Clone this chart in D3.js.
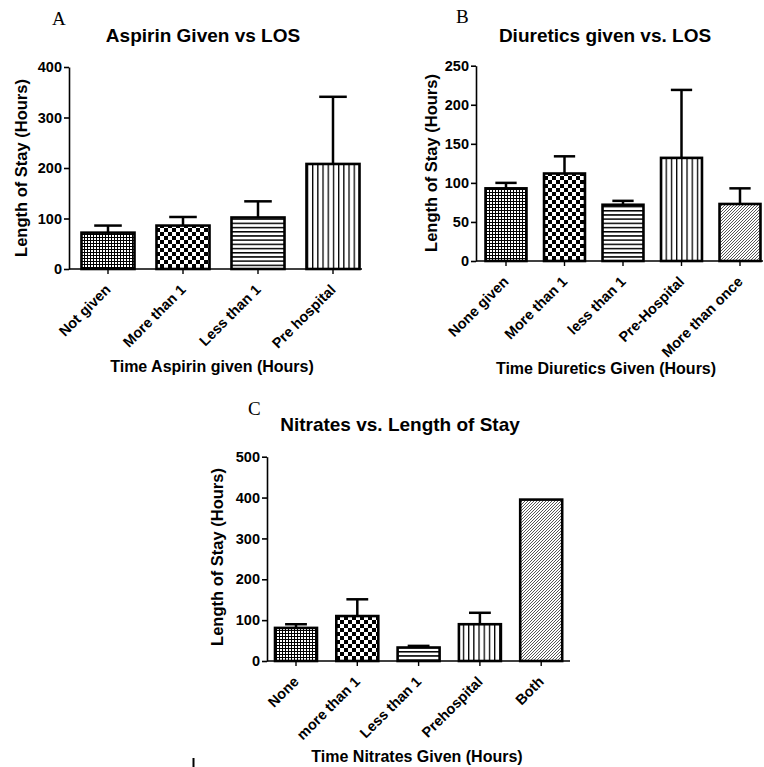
<!DOCTYPE html>
<html>
<head>
<meta charset="utf-8">
<script src="https://cdn.jsdelivr.net/npm/d3@7"></script>
<style>
  body { margin: 0; background: #fff; }
  svg { display: block; }
  text { font-family: "Liberation Sans", Arial, sans-serif; font-weight: bold; fill: #000; }
</style>
</head>
<body>
<div id="chart"></div>
<script>
// panel A
const aspirinCategories = ['Not given', 'More than 1', 'Less than 1', 'Pre hospital'];
const aspirinMeans = [72, 86, 102, 208];
const aspirinErrors = [14, 17, 32, 133];
const aspirinTicks = [0, 100, 200, 300, 400];

// panel B
const diureticCategories = ['None given', 'More than 1', 'less than 1', 'Pre-Hospital', 'More than once'];
const diureticMeans = [93, 112, 72, 132, 73];
const diureticErrors = [7, 22, 5, 87, 20];
const diureticTicks = [0, 50, 100, 150, 200, 250];

// panel C
const nitrateCategories = ['None', 'more than 1', 'Less than 1', 'Prehospital', 'Both'];
const nitrateMeans = [81, 110, 33, 90, 395];
const nitrateErrors = [9, 41, 4, 28, 0];
const nitrateTicks = [0, 100, 200, 300, 400, 500];

const fills = ['grid', 'checker', 'hlines', 'vlines', 'diag'];

const svg = d3.select('#chart').append('svg').attr('width', 764).attr('height', 767);

const defs = svg.append('defs');
const grid = defs.append('pattern').attr('id', 'grid').attr('patternUnits', 'userSpaceOnUse')
  .attr('width', 3).attr('height', 3);
grid.append('rect').attr('width', 3).attr('height', 3).attr('fill', '#fff');
grid.append('rect').attr('width', 3).attr('height', 1).attr('fill', '#000');
grid.append('rect').attr('width', 1).attr('height', 3).attr('fill', '#000');

const checker = defs.append('pattern').attr('id', 'checker').attr('patternUnits', 'userSpaceOnUse')
  .attr('width', 8).attr('height', 8);
checker.append('rect').attr('width', 8).attr('height', 8).attr('fill', '#fff');
checker.append('rect').attr('width', 4).attr('height', 4).attr('fill', '#000');
checker.append('rect').attr('x', 4).attr('y', 4).attr('width', 4).attr('height', 4).attr('fill', '#000');

const hlines = defs.append('pattern').attr('id', 'hlines').attr('patternUnits', 'userSpaceOnUse')
  .attr('width', 4).attr('height', 4.2);
hlines.append('rect').attr('width', 4).attr('height', 4.2).attr('fill', '#fff');
hlines.append('rect').attr('width', 4).attr('height', 1.5).attr('fill', '#000');

const vlines = defs.append('pattern').attr('id', 'vlines').attr('patternUnits', 'userSpaceOnUse')
  .attr('width', 5.2).attr('height', 4);
vlines.append('rect').attr('width', 5.2).attr('height', 4).attr('fill', '#fff');
vlines.append('rect').attr('width', 1.3).attr('height', 4).attr('fill', '#000');

const diag = defs.append('pattern').attr('id', 'diag').attr('patternUnits', 'userSpaceOnUse')
  .attr('width', 3).attr('height', 3);
diag.append('rect').attr('width', 3).attr('height', 3).attr('fill', '#fff');
diag.append('path').attr('d', 'M-1,1 L1,-1 M0,3 L3,0 M2,4 L4,2')
  .attr('stroke', '#444').attr('stroke-width', 0.9);

const panels = [
  {
    letter: 'A', letterX: 52, letterY: 25,
    title: 'Aspirin Given vs LOS', titleX: 203, titleY: 42,
    yTitle: 'Length of Stay (Hours)', yTitleX: 27, yTitleY: 168,
    xTitle: 'Time Aspirin given (Hours)', xTitleX: 212, xTitleY: 372,
    categories: aspirinCategories, means: aspirinMeans, errors: aspirinErrors, ticks: aspirinTicks,
    left: 69, top: 67, bottom: 269, axisEnd: 362, firstCenter: 108, step: 75, barFrac: 0.707,
  },
  {
    letter: 'B', letterX: 456, letterY: 23,
    title: 'Diuretics given vs. LOS', titleX: 605, titleY: 42,
    yTitle: 'Length of Stay (Hours)', yTitleX: 437, yTitleY: 163,
    xTitle: 'Time Diuretics Given (Hours)', xTitleX: 606, xTitleY: 374,
    categories: diureticCategories, means: diureticMeans, errors: diureticErrors, ticks: diureticTicks,
    left: 476, top: 65.7, bottom: 261, axisEnd: 763, firstCenter: 506, step: 58.5, barFrac: 0.7,
  },
  {
    letter: 'C', letterX: 248, letterY: 415,
    title: 'Nitrates vs. Length of Stay', titleX: 400, titleY: 431,
    yTitle: 'Length of Stay (Hours)', yTitleX: 223, yTitleY: 557,
    xTitle: 'Time Nitrates Given (Hours)', xTitleX: 417, xTitleY: 762,
    categories: nitrateCategories, means: nitrateMeans, errors: nitrateErrors, ticks: nitrateTicks,
    left: 267, top: 456.7, bottom: 661, axisEnd: 570, firstCenter: 296, step: 61.3, barFrac: 0.685,
  },
];

const drawPanel = (p) => {
  const n = p.categories.length;
  const start = p.firstCenter - p.step / 2;
  const x = d3.scaleBand()
    .domain(p.categories)
    .range([start, start + p.step * n])
    .paddingInner(1 - p.barFrac)
    .paddingOuter((1 - p.barFrac) / 2);
  const y = d3.scaleLinear().domain([0, d3.max(p.ticks)]).range([p.bottom, p.top]);

  const g = svg.append('g');

  g.append('text').text(p.letter)
    .attr('x', p.letterX).attr('y', p.letterY)
    .style('font-family', '"Liberation Serif", "Times New Roman", serif')
    .style('font-weight', 'normal').style('font-size', '19px');

  g.append('text').text(p.title)
    .attr('x', p.titleX).attr('y', p.titleY)
    .attr('text-anchor', 'middle').style('font-size', '19px');

  g.append('text').text(p.yTitle)
    .attr('transform', `translate(${p.yTitleX},${p.yTitleY}) rotate(-90)`)
    .attr('text-anchor', 'middle').style('font-size', '16.5px');

  g.append('text').text(p.xTitle)
    .attr('x', p.xTitleX).attr('y', p.xTitleY)
    .attr('text-anchor', 'middle').style('font-size', '16px');

  // bars
  const rows = p.categories.map((c, i) => ({ c, mean: p.means[i], err: p.errors[i], fill: fills[i] }));
  g.selectAll('.bar')
    .data(rows)
    .enter()
    .append('rect')
    .attr('class', 'bar')
    .attr('x', (d) => x(d.c))
    .attr('y', (d) => y(d.mean))
    .attr('width', x.bandwidth())
    .attr('height', (d) => y(0) - y(d.mean))
    .attr('fill', (d) => `url(#${d.fill})`)
    .attr('stroke', '#000')
    .attr('stroke-width', 2.6);

  // error bars (upper only)
  const eb = g.selectAll('.err').data(rows.filter((d) => d.err > 0)).enter().append('g');
  eb.append('line')
    .attr('x1', (d) => x(d.c) + x.bandwidth() / 2)
    .attr('x2', (d) => x(d.c) + x.bandwidth() / 2)
    .attr('y1', (d) => y(d.mean))
    .attr('y2', (d) => y(d.mean + d.err))
    .attr('stroke', '#000').attr('stroke-width', 2.5);
  eb.append('line')
    .attr('x1', (d) => x(d.c) + x.bandwidth() * 0.24)
    .attr('x2', (d) => x(d.c) + x.bandwidth() * 0.76)
    .attr('y1', (d) => y(d.mean + d.err))
    .attr('y2', (d) => y(d.mean + d.err))
    .attr('stroke', '#000').attr('stroke-width', 2.5);

  // y axis
  const yAxis = g.append('g')
    .attr('transform', `translate(${p.left},0)`)
    .call(d3.axisLeft(y).tickValues(p.ticks).tickSize(5).tickSizeOuter(0).tickPadding(2));
  yAxis.select('.domain').attr('stroke-width', 1.6);
  yAxis.selectAll('.tick line').attr('stroke-width', 1.6);
  yAxis.selectAll('text').style('font-size', '14.5px').style('font-family', null);

  // x axis
  const xAxis = g.append('g')
    .attr('transform', `translate(0,${p.bottom})`)
    .call(d3.axisBottom(x).tickSize(5).tickSizeOuter(0));
  xAxis.select('.domain').remove();
  xAxis.append('line')
    .attr('x1', p.left).attr('x2', p.axisEnd)
    .attr('stroke', '#000').attr('stroke-width', 1.6);
  xAxis.selectAll('.tick line').attr('stroke-width', 1.4);
  xAxis.selectAll('text')
    .attr('y', 0).attr('dy', '0.35em')
    .attr('transform', 'translate(0,18) rotate(-45)')
    .attr('text-anchor', 'end')
    .style('font-size', '14.5px').style('font-family', null);
};

panels.forEach(drawPanel);

// stray mark at the lower left of the figure
svg.append('line').attr('x1', 193.5).attr('x2', 193.5).attr('y1', 758).attr('y2', 767)
  .attr('stroke', '#000').attr('stroke-width', 2);
</script>
</body>
</html>
